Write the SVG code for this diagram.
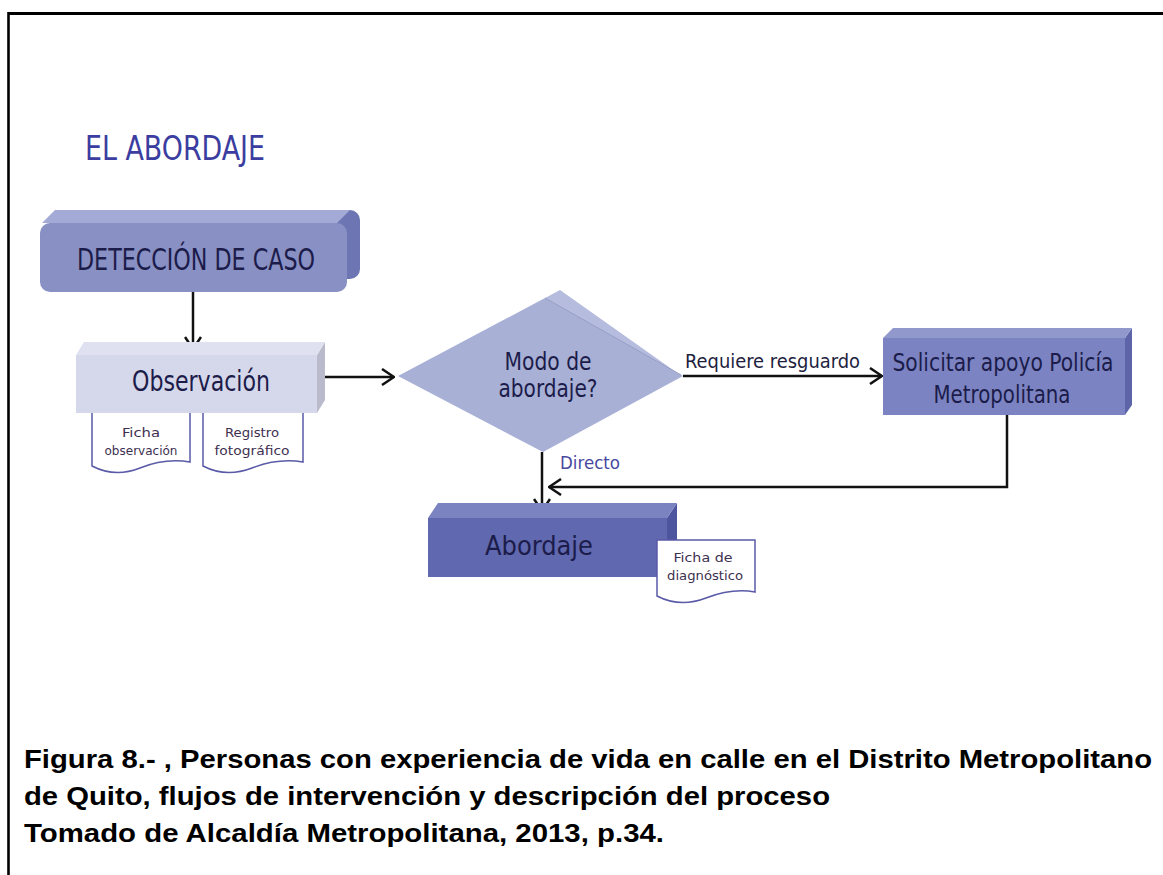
<svg xmlns="http://www.w3.org/2000/svg" width="1163" height="875" viewBox="0 0 1163 875">
<style>
.lbl{font-family:"Liberation Sans Narrow","DejaVu Sans Condensed","Liberation Sans",Arial,sans-serif;fill:#1c1c4a;text-anchor:middle}
.doc{fill:#ffffff;stroke:#5a5aa8;stroke-width:1.5}
.doct{font-family:"Liberation Sans Narrow","DejaVu Sans Condensed","Liberation Sans",Arial,sans-serif;font-size:13px;fill:#3e3050;text-anchor:middle}
.cap{font-family:"Liberation Sans",Arial,sans-serif;font-weight:bold;font-size:26px;fill:#000}
.conn{fill:none;stroke:#111;stroke-width:2.5}
</style>
<defs>
<marker id="ah" markerWidth="14" markerHeight="18" refX="13" refY="9" orient="auto" markerUnits="userSpaceOnUse">
<path d="M1,1 L13,9 L1,17" fill="none" stroke="#111" stroke-width="2.5"/>
</marker>
</defs>
<rect x="0" y="0" width="1163" height="875" fill="#fff"/>
<g id="frame">
<line x1="8" y1="13.5" x2="1163" y2="13.5" stroke="#000" stroke-width="3"/>
<line x1="8.5" y1="12" x2="8.5" y2="875" stroke="#000" stroke-width="2.6"/>
</g>
<text x="85" y="160" font-family="Liberation Sans Narrow,DejaVu Sans Condensed,Liberation Sans,sans-serif" font-size="33" fill="#3b3ea0" textLength="180" lengthAdjust="spacingAndGlyphs">EL ABORDAJE</text>

<g id="connectors">
<line class="conn" x1="193" y1="292" x2="193" y2="349" marker-end="url(#ah)"/>
<line class="conn" x1="317" y1="377" x2="394" y2="377" marker-end="url(#ah)"/>
<line class="conn" x1="683" y1="376" x2="882" y2="376" marker-end="url(#ah)"/>
<polyline class="conn" stroke="#333" stroke-width="3" points="1007,415 1007,487 549,487" marker-end="url(#ah)"/>
<line class="conn" x1="542" y1="452" x2="542" y2="511" marker-end="url(#ah)"/>
<text x="685" y="368" font-family="Liberation Sans Narrow,DejaVu Sans Condensed,Liberation Sans,sans-serif" font-size="19" fill="#1e1e40" textLength="175" lengthAdjust="spacingAndGlyphs">Requiere resguardo</text>
<text x="560" y="469" font-family="Liberation Sans Narrow,DejaVu Sans Condensed,Liberation Sans,sans-serif" font-size="18" fill="#4848a0" textLength="60" lengthAdjust="spacingAndGlyphs">Directo</text>
</g>

<g id="node-deteccion">
<rect x="53" y="210" width="307" height="69" rx="10" fill="#6d75b2"/>
<polygon points="42,223 55,210 350,210 337,223" fill="#a3aad6"/>
<rect x="40" y="223" width="307" height="69" rx="10" fill="#8890c4"/>
<text class="lbl" x="196" y="270" font-size="30" textLength="238" lengthAdjust="spacingAndGlyphs">DETECCIÓN DE CASO</text>
</g>

<g id="node-observacion">
<polygon points="317,355 325,342 325,400 317,413" fill="#b9bbcc"/>
<polygon points="76,355 84,342 325,342 317,355" fill="#dfe1f0"/>
<rect x="76" y="355" width="241" height="58" fill="#d5d7eb"/>
<text class="lbl" x="201" y="391" font-size="28" textLength="138" lengthAdjust="spacingAndGlyphs">Observación</text>
</g>

<g id="doc-ficha-observacion">
<path class="doc" d="M92,413 V466 Q115,478 140,468 T190,462 V413"/>
<text class="doct" x="141" y="437" textLength="38" lengthAdjust="spacingAndGlyphs">Ficha</text>
<text class="doct" x="141" y="455" textLength="73" lengthAdjust="spacingAndGlyphs">observación</text>
</g>

<g id="doc-registro">
<path class="doc" d="M203,413 V466 Q226,478 252,468 T303,462 V413"/>
<text class="doct" x="252" y="437" textLength="54" lengthAdjust="spacingAndGlyphs">Registro</text>
<text class="doct" x="252" y="455" textLength="75" lengthAdjust="spacingAndGlyphs">fotográfico</text>
</g>

<g id="node-modo">
<polygon points="398,376 545,298 683,376 543,452" fill="#a8b0d6"/>
<polygon points="545,298 560,290 683,377" fill="#b5bcdd"/>
<line x1="545" y1="298" x2="681" y2="375" stroke="#959cc6" stroke-width="1"/>
<text class="lbl" x="548" y="370" font-size="24" textLength="87" lengthAdjust="spacingAndGlyphs">Modo de</text>
<text class="lbl" x="548" y="397" font-size="24" textLength="99" lengthAdjust="spacingAndGlyphs">abordaje?</text>
</g>

<g id="node-solicitar">
<polygon points="1125,338 1132,328 1132,405 1125,415" fill="#5d65a8"/>
<polygon points="883,338 893,328 1132,328 1125,338" fill="#9098cc"/>
<rect x="883" y="338" width="242" height="77" fill="#7b83c2"/>
<text class="lbl" x="1003" y="371" font-size="25" textLength="221" lengthAdjust="spacingAndGlyphs">Solicitar apoyo Policía</text>
<text class="lbl" x="1002" y="403" font-size="25" textLength="137" lengthAdjust="spacingAndGlyphs">Metropolitana</text>
</g>

<g id="node-abordaje">
<polygon points="667,518 677,503 677,562 667,577" fill="#4d559e"/>
<polygon points="428,518 438,503 677,503 667,518" fill="#7b83c0"/>
<rect x="428" y="518" width="239" height="59" fill="#6068b0"/>
<text class="lbl" x="539" y="555" font-size="27" textLength="108" lengthAdjust="spacingAndGlyphs">Abordaje</text>
</g>

<g id="doc-ficha-diagnostico">
<path class="doc" d="M657,540 V596 Q680,608 706,598 T755,592 V540 Z"/>
<text class="doct" x="703" y="562" textLength="59" lengthAdjust="spacingAndGlyphs">Ficha de</text>
<text class="doct" x="705" y="580" textLength="76" lengthAdjust="spacingAndGlyphs">diagnóstico</text>
</g>

<g id="caption">
<text class="cap" x="24" y="768" textLength="1128" lengthAdjust="spacingAndGlyphs">Figura 8.- , Personas con experiencia de vida en calle en el Distrito Metropolitano</text>
<text class="cap" x="24" y="805" textLength="806" lengthAdjust="spacingAndGlyphs">de Quito, flujos de intervención y descripción del proceso</text>
<text class="cap" x="24" y="842" textLength="640" lengthAdjust="spacingAndGlyphs">Tomado de Alcaldía Metropolitana, 2013, p.34.</text>
</g>
</svg>
